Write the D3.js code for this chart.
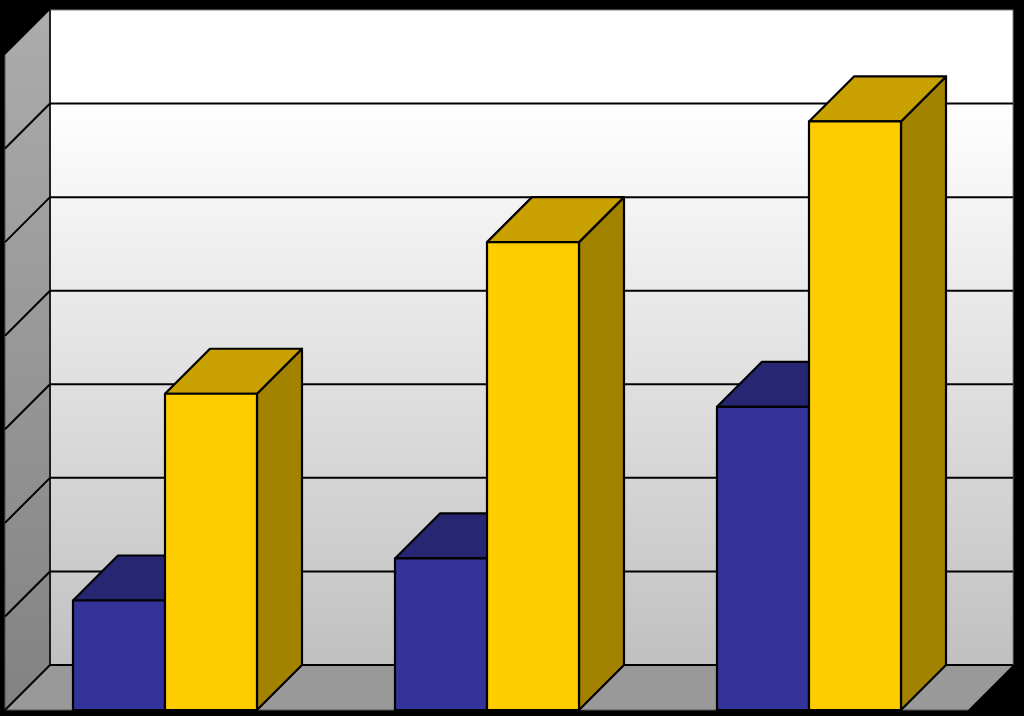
<!DOCTYPE html>
<html>
<head>
<meta charset="utf-8">
<script src="https://cdn.jsdelivr.net/npm/d3@7/dist/d3.min.js"></script>
<style>
  html, body { margin: 0; padding: 0; background: #000; }
  svg { display: block; }
</style>
</head>
<body>
<svg id="chart" width="1024" height="716"></svg>
<script>
// ---- data ----
const categories = ["Group 1", "Group 2", "Group 3"];
const seriesNames = ["Series 1", "Series 2"];
const series1 = [1.17, 1.62, 3.24];
const series2 = [3.38, 5.0, 6.29];
const yTicks = [0, 1, 2, 3, 4, 5, 6, 7];

// ---- geometry ----
const W = 1024, H = 716;
const depthX = 45, depthY = 45;          // offset from front plane to back plane
const backLeft = 50, backRight = 1013, backTop = 10, backBottom = 665;
const frontLeft = backLeft - depthX, frontRight = backRight - depthX;

const svg = d3.select("#chart");

// y scale on the back plane; front plane is shifted down by depthY
const yBack = d3.scaleLinear().domain([0, 7]).range([backBottom, backTop]);
const yFront = v => yBack(v) + depthY;

// x scales on the front plane
const x0 = d3.scaleBand().domain(categories).range([frontLeft - 1, frontRight + 2]).padding(0);
const bw = x0.bandwidth();
const gap = bw * 1.5 / 3.5;
const x1 = d3.scaleBand().domain(seriesNames).range([gap / 2, bw - gap / 2]).padding(0);

const defs = svg.append("defs");
const gBack = defs.append("linearGradient").attr("id", "gBack")
  .attr("x1", 0).attr("y1", 0).attr("x2", 0).attr("y2", 1);
gBack.append("stop").attr("offset", "0%").attr("stop-color", "#ffffff");
gBack.append("stop").attr("offset", "14%").attr("stop-color", "#ffffff");
gBack.append("stop").attr("offset", "100%").attr("stop-color", "#c0c0c0");
const gSide = defs.append("linearGradient").attr("id", "gSide")
  .attr("x1", 0).attr("y1", 0).attr("x2", 0).attr("y2", 1);
gSide.append("stop").attr("offset", "0%").attr("stop-color", "#acacac");
gSide.append("stop").attr("offset", "100%").attr("stop-color", "#828282");

svg.append("rect").attr("width", W).attr("height", H).attr("fill", "#000");

const poly = pts => "M" + pts.map(p => p.join(",")).join("L") + "Z";

// back wall
svg.append("path")
  .attr("d", poly([[backLeft, backTop], [backRight, backTop], [backRight, backBottom], [backLeft, backBottom]]))
  .attr("fill", "url(#gBack)").attr("stroke", "#808080").attr("stroke-width", 1);

// side wall
svg.append("path")
  .attr("d", poly([[frontLeft, backTop + depthY], [backLeft, backTop], [backLeft, backBottom], [frontLeft, backBottom + depthY]]))
  .attr("fill", "url(#gSide)").attr("stroke", "#555").attr("stroke-width", 1);

// floor
svg.append("path")
  .attr("d", poly([[backLeft, backBottom], [backRight, backBottom], [frontRight, backBottom + depthY], [frontLeft, backBottom + depthY]]))
  .attr("fill", "#999999").attr("stroke", "#555").attr("stroke-width", 1);

// gridlines
const grid = svg.append("g");
yTicks.filter(t => t < 7).forEach(t => {
  const yy = yBack(t);
  grid.append("line").attr("x1", backLeft).attr("x2", backRight).attr("y1", yy).attr("y2", yy)
    .attr("stroke", "#000").attr("stroke-width", 2);
  grid.append("line").attr("x1", backLeft).attr("x2", frontLeft).attr("y1", yy).attr("y2", yy + depthY)
    .attr("stroke", "#000").attr("stroke-width", 2);
});
grid.append("line").attr("x1", backLeft).attr("x2", backLeft).attr("y1", backTop).attr("y2", backBottom)
  .attr("stroke", "#000").attr("stroke-width", 1.5);

// bars
const colors = [
  { front: "#333399", top: "#262673", side: "#1f1f5c" },
  { front: "#ffcc00", top: "#c9a100", side: "#a38200" }
];
const seriesData = [series1, series2];
const bars = svg.append("g").attr("stroke", "#000").attr("stroke-width", 2.2).attr("stroke-linejoin", "round");

categories.forEach((c, ci) => {
  seriesNames.forEach((s, si) => {
    const v = seriesData[si][ci];
    const xl = x0(c) + x1(s), xr = xl + x1.bandwidth();
    const yb = yFront(0), yt = yFront(v);
    const col = colors[si];
    // right side
    bars.append("path")
      .attr("d", poly([[xr, yt], [xr + depthX, yt - depthY], [xr + depthX, yb - depthY], [xr, yb]]))
      .attr("fill", col.side);
    // top
    bars.append("path")
      .attr("d", poly([[xl, yt], [xl + depthX, yt - depthY], [xr + depthX, yt - depthY], [xr, yt]]))
      .attr("fill", col.top);
    // front
    bars.append("path")
      .attr("d", poly([[xl, yt], [xr, yt], [xr, yb], [xl, yb]]))
      .attr("fill", col.front);
  });
});
</script>
</body>
</html>
